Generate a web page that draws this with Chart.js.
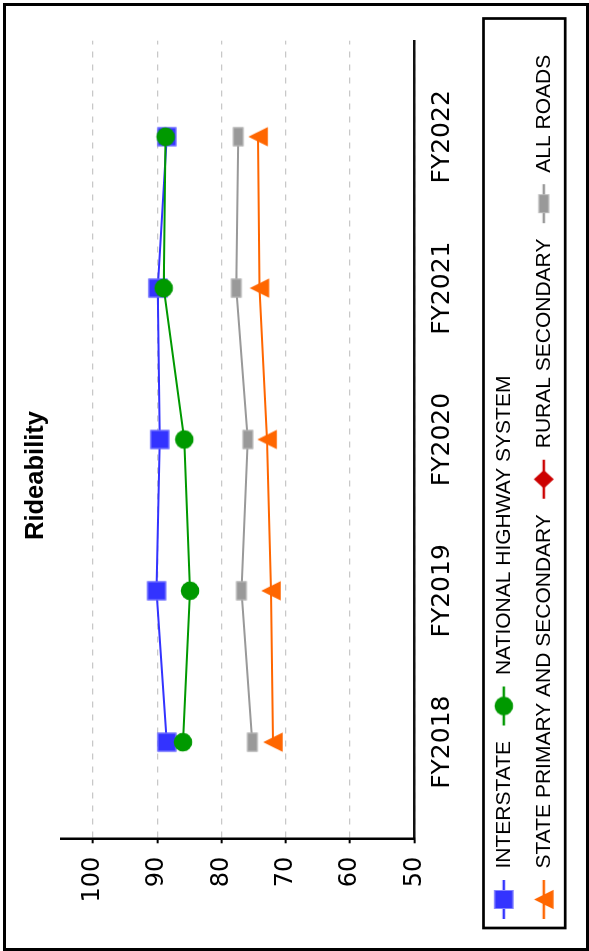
<!DOCTYPE html>
<html><head><meta charset="utf-8">
<script src="https://cdn.jsdelivr.net/npm/chart.js@4/dist/chart.umd.min.js"></script>
<style>
html,body{margin:0;padding:0;background:#fff;width:589px;height:951px;overflow:hidden;}
#rot{position:absolute;left:0;top:0;width:951px;height:589px;transform-origin:0 0;transform:translateY(951px) rotate(-90deg);}
#frame{position:absolute;left:3px;top:3px;width:586px;height:948px;border:3px solid #000;box-sizing:border-box;pointer-events:none;}
canvas{display:block;}
</style></head><body>
<div id="rot"><canvas id="c" width="951" height="589"></canvas></div>
<div id="frame"></div>
<script>
// ---- data ----
const categories = ['FY2018', 'FY2019', 'FY2020', 'FY2021', 'FY2022'];
const seriesNames = ['INTERSTATE', 'NATIONAL HIGHWAY SYSTEM', 'STATE PRIMARY AND SECONDARY', 'RURAL SECONDARY', 'ALL ROADS'];
const interstate = [88.5, 90.1, 89.6, 89.9, 88.5];
const nationalHighwaySystem = [86.0, 84.9, 85.8, 89.0, 88.7];
const statePrimarySecondary = [72.0, 72.3, 72.9, 74.1, 74.3];
const ruralSecondary = [null, null, null, null, null];
const allRoads = [75.2, 76.9, 75.9, 77.7, 77.4];
const yTickValues = [50, 60, 70, 80, 90, 100];
const yMin = 50, yMax = 105;

// ---- styles ----
const colors = ['#3333ff', '#009900', '#ff6600', '#cc0000', '#999999'];

function makeCanvas(w, h, fn) {
  const c = document.createElement('canvas');
  c.width = w; c.height = h;
  const ctx = c.getContext('2d');
  fn(ctx, w, h);
  return c;
}
function drawMarker(ctx, kind, cx, cy, color) {
  ctx.fillStyle = color;
  if (kind === 'square') {
    ctx.fillRect(cx - 9.5, cy - 9.5, 19, 19);
    ctx.strokeStyle = 'rgba(140,140,255,0.9)'; ctx.lineWidth = 1;
    ctx.strokeRect(cx - 9, cy - 9, 18, 18);
  } else if (kind === 'circle') {
    ctx.beginPath(); ctx.arc(cx, cy, 9.3, 0, Math.PI * 2); ctx.fill();
  } else if (kind === 'triangle') {
    ctx.beginPath(); ctx.moveTo(cx, cy - 9.7); ctx.lineTo(cx + 9.7, cy + 9.7); ctx.lineTo(cx - 9.7, cy + 9.7); ctx.closePath(); ctx.fill();
  } else if (kind === 'diamond') {
    ctx.beginPath(); ctx.moveTo(cx, cy - 10); ctx.lineTo(cx + 9.2, cy); ctx.lineTo(cx, cy + 10); ctx.lineTo(cx - 9.2, cy); ctx.closePath(); ctx.fill();
  } else if (kind === 'rect') {
    ctx.fillRect(cx - 9.5, cy - 5.3, 19, 10.6);
    ctx.strokeStyle = 'rgba(190,190,190,0.9)'; ctx.lineWidth = 1;
    ctx.strokeRect(cx - 9, cy - 4.8, 18, 9.6);
  }
}
const kinds = ['square', 'circle', 'triangle', 'diamond', 'rect'];
const pointImgs = kinds.map((k, i) => makeCanvas(22, 22, (ctx) => drawMarker(ctx, k, 11, 11, colors[i])));
const legendIcons = kinds.map((k, i) => makeCanvas(41, 24, (ctx, w, h) => {
  ctx.strokeStyle = colors[i]; ctx.lineWidth = 2.3;
  ctx.beginPath(); ctx.moveTo(1, 12); ctx.lineTo(40, 12); ctx.stroke();
  drawMarker(ctx, k, 20.5, 12, colors[i]);
}));

const toXY = (arr) => arr.map((v, i) => ({ x: i, y: v }));
const seriesValues = [interstate, nationalHighwaySystem, statePrimarySecondary, ruralSecondary, allRoads];
const drawOrder = [1, 0, 2, 3, 4];

const legendDeco = {
  id: 'legendDeco',
  afterDraw(chart) {
    const lg = chart.legend, ctx = chart.ctx;
    ctx.save();
    lg.legendHitBoxes.forEach((hb, i) => {
      const item = lg.legendItems[i];
      const img = legendIcons[item.datasetIndex];
      ctx.drawImage(img, hb.left + 20.5 - img.width / 2, hb.top + hb.height / 2 - img.height / 2);
    });
    ctx.lineWidth = 2.7; ctx.strokeStyle = '#000';
    ctx.strokeRect(lg.left + 6.4, lg.top + 6.9, lg.right - lg.left - 8.3, 81.7);
    ctx.restore();
  }
};

new Chart(document.getElementById('c'), {
  type: 'line',
  data: {
    datasets: seriesNames.map((name, i) => ({
      label: name,
      data: toXY(seriesValues[i]),
      borderColor: colors[i],
      backgroundColor: colors[i],
      borderWidth: 2,
      pointStyle: pointImgs[i],
      pointRadius: 10,
      tension: 0,
      order: drawOrder[i]
    }))
  },
  options: {
    responsive: false,
    devicePixelRatio: 1,
    animation: false,
    layout: { padding: { top: 10, left: 16.6, right: 16.6, bottom: 22.4 } },
    plugins: {
      title: {
        display: true, text: 'Rideability', color: '#000',
        font: { family: 'Liberation Sans', size: 25.5, weight: 'bold' },
        padding: { top: 11, bottom: 9.2 }
      },
      legend: {
        position: 'bottom', align: 'start',
        labels: {
          color: '#000',
          font: { family: 'Liberation Sans', size: 21 },
          boxWidth: 41, boxHeight: 25.6, padding: 14.4,
          sort: (a, b) => a.datasetIndex - b.datasetIndex,
          generateLabels: (chart) => {
            const items = Chart.defaults.plugins.legend.labels.generateLabels(chart);
            items.forEach(it => { it.fillStyle = 'rgba(0,0,0,0)'; it.strokeStyle = 'rgba(0,0,0,0)'; it.lineWidth = 0; });
            return items;
          }
        }
      },
      tooltip: { enabled: false }
    },
    scales: {
      x: {
        type: 'linear',
        min: -0.635, max: 4.635,
        afterBuildTicks: (s) => { s.ticks = categories.map((c, i) => ({ value: i })); },
        afterFit: (s) => { s.height = 62.3; s.paddingRight = 40.7; s.paddingLeft = 0; },
        ticks: {
          callback: (v) => categories[v],
          autoSkip: false, maxRotation: 0, minRotation: 0,
          color: '#000', padding: 13,
          font: { family: 'DejaVu Sans', size: 25 }
        },
        grid: { drawOnChartArea: false, drawTicks: false },
        border: { display: true, color: '#111', width: 2.5 }
      },
      y: {
        type: 'linear',
        min: yMin, max: yMax,
        afterBuildTicks: (s) => { s.ticks = yTickValues.map(v => ({ value: v })); },
        afterFit: (s) => { s.width = 96.1; },
        ticks: {
          color: '#000', padding: 13.4,
          font: { family: 'DejaVu Sans', size: 24 }
        },
        grid: { color: '#c8c8c8', lineWidth: 1.3, tickColor: '#000', tickLength: 5, tickWidth: 2, tickBorderDash: [] },
        border: { display: true, color: '#000', width: 2.5, dash: [6, 7] }
      }
    }
  },
  plugins: [legendDeco]
});
</script>
</body></html>
